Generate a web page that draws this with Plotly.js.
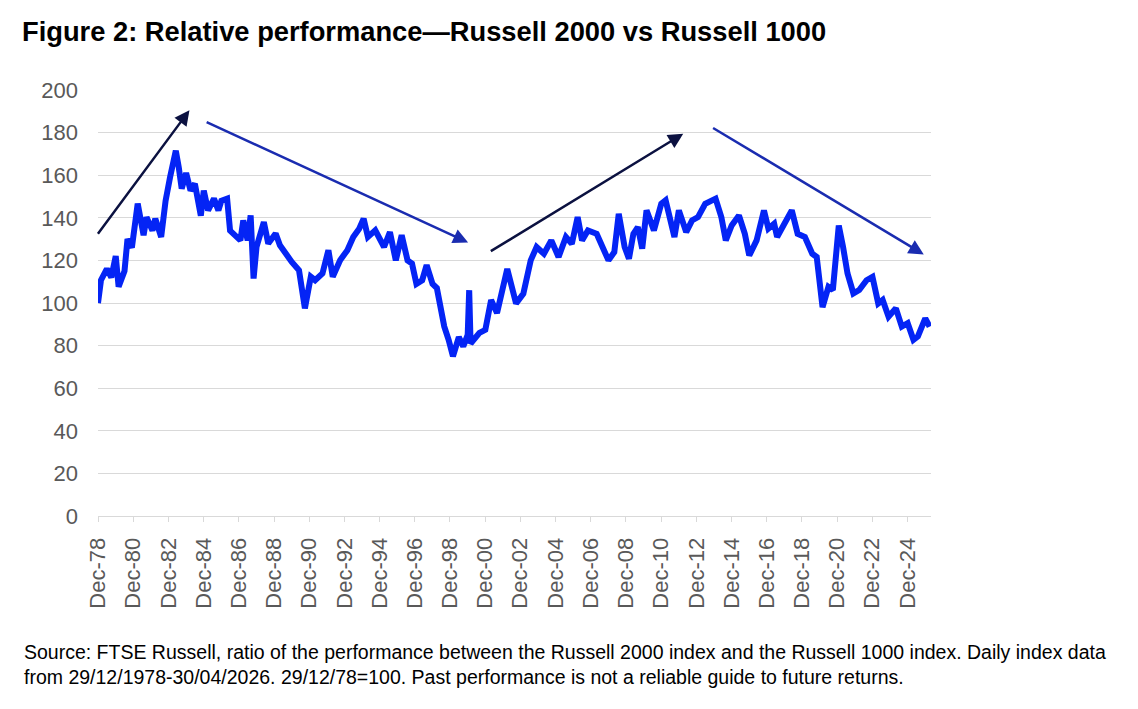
<!DOCTYPE html>
<html>
<head>
<meta charset="utf-8">
<script src="https://cdn.plot.ly/plotly-3.0.1.min.js"></script>
<style>
  html, body { margin: 0; padding: 0; background: #ffffff; }
  #chart { width: 1138px; height: 709px; }
</style>
</head>
<body>
<div id="chart"></div>
<script>
// Month-end dates of readings (relative performance, 29/12/78 = 100)
const dates = [
  '1978-12-29','1979-03','1979-07','1979-10','1980-01','1980-03','1980-07','1980-09','1980-12',
  '1981-04','1981-08','1981-10','1982-02','1982-04','1982-08','1982-11','1983-02','1983-06',
  '1983-08','1983-10','1984-01','1984-04','1984-07','1984-11','1985-01','1985-04','1985-08',
  '1985-11','1986-01','1986-05','1986-07','1986-12','1987-02','1987-04','1987-07','1987-09',
  '1987-11','1988-01','1988-06','1988-09','1989-02','1989-05','1989-10','1990-01','1990-06',
  '1990-10','1991-02','1991-05','1991-10','1992-02','1992-05','1992-10','1993-03','1993-07',
  '1993-11','1994-02','1994-05','1994-10','1995-04','1995-08','1995-12','1996-04','1996-08',
  '1996-11','1997-02','1997-06','1997-09','1998-01','1998-04','1998-09','1998-12','1999-03',
  '1999-07','1999-10','2000-01','2000-02','2000-03','2000-09','2001-01','2001-05','2001-09',
  '2001-12','2002-04','2002-10','2003-03','2003-08','2003-12','2004-05','2004-10','2005-03',
  '2005-08','2005-12','2006-04','2006-07','2006-11','2007-05','2007-10','2008-01','2008-05',
  '2008-08','2008-12','2009-03','2009-06','2009-09','2009-12','2010-03','2010-08','2011-01',
  '2011-04','2011-08','2011-10','2012-01','2012-06','2012-10','2013-02','2013-07','2013-12',
  '2014-02','2014-06','2014-09','2015-01','2015-06','2015-10','2016-01','2016-06','2016-11',
  '2017-02','2017-06','2017-08','2018-01','2018-06','2018-10','2019-03','2019-08','2019-11',
  '2020-03','2020-07','2020-10','2021-02','2021-05','2021-08','2021-12','2022-04','2022-09',
  '2023-01','2023-05','2023-08','2023-12','2024-05','2024-09','2025-01','2025-05','2025-08',
  '2026-01','2026-04'
];
const ratio = [
  100,110.7,116,112,122,107.6,115,130,126,
  146.7,131.8,140.3,134,139.6,131,148,159,171.5,
  163.7,153.7,161,152.8,156,141,152.8,143.5,149,
  143.5,148,149,134,131,129.4,138.8,129.4,141.1,
  111.5,126.3,138,127.9,132.6,127.1,121.6,119.3,115.4,
  97.5,112.3,110.7,113.9,124.8,112.3,120.1,124.8,131,
  134.9,139.6,131,134.1,126.3,133.3,120,131.8,120,
  118.5,109,110.7,117.8,109,107,89,82.7,75,
  84,79.6,85,106,81,86,87.4,101.4,95.3,
  104.7,116,99.8,104.4,120,126.3,123.1,129.4,121.6,
  131,127.8,140.3,129.4,134.1,132.5,124.7,120,123.9,
  141.9,126.3,120.8,132.5,135.6,125.5,143.5,134.1,146.6,
  148.2,137.2,131,143.5,133.3,138.8,140.3,146.6,148.2,
  149,140.3,129.4,136.4,141.1,132.5,122.3,129.4,143.5,
  134.9,137.2,131,137.2,143.5,132.5,131,123.1,121.6,
  98.1,107.6,106.1,136.4,126.3,113.9,104.5,106.1,110.7,
  112.3,99.8,101.4,93.6,97.5,88.9,90.5,82.7,84.3,
  92.8,88.9
];

// Axis ticks
const tickDates = ['1978-12-29','1980-12-29','1982-12-29','1984-12-29','1986-12-29','1988-12-29',
  '1990-12-29','1992-12-29','1994-12-29','1996-12-29','1998-12-29','2000-12-29','2002-12-29',
  '2004-12-29','2006-12-29','2008-12-29','2010-12-29','2012-12-29','2014-12-29','2016-12-29',
  '2018-12-29','2020-12-29','2022-12-29','2024-12-29'];
const tickLabels = ['Dec-78','Dec-80','Dec-82','Dec-84','Dec-86','Dec-88','Dec-90','Dec-92',
  'Dec-94','Dec-96','Dec-98','Dec-00','Dec-02','Dec-04','Dec-06','Dec-08','Dec-10','Dec-12',
  'Dec-14','Dec-16','Dec-18','Dec-20','Dec-22','Dec-24'];
const yTicks = [0,20,40,60,80,100,120,140,160,180,200];

// Trend arrows: [start date, start value, end date, end value, colour]
const trendArrows = [
  ['1978-12-05', 131.8, '1984-03-10', 190.5, '#0b1140'],
  ['1985-01-30', 185.2, '2000-01-10', 128.4, '#1a2cb0'],
  ['2001-03-25', 123.9, '2012-04-01', 179.5, '#0b1140'],
  ['2013-11-10', 182.6, '2025-12-01', 122.8, '#1a2cb0']
];

const FONT = 'Arial, "Liberation Sans", Helvetica, sans-serif';
const W = 1138, H = 709;
const L = 98, R = 207, T = 90, B = 193;
const pw = W - L - R, ph = H - T - B;

const annotations = trendArrows.map(a => ({
  x: a[2], y: a[3], ax: a[0], ay: a[1],
  xref: 'x', yref: 'y', axref: 'x', ayref: 'y',
  text: '', showarrow: true,
  arrowhead: 2, arrowsize: 1.2, arrowwidth: 2.5, arrowcolor: a[4], standoff: 0
}));
annotations.push({
  xref: 'paper', yref: 'paper', x: (22 - L) / pw, y: (T + ph - 652) / ph,
  xanchor: 'left', yanchor: 'middle', align: 'left', showarrow: false,
  text: 'Source: FTSE Russell, ratio of the performance between the Russell 2000 index and the Russell 1000 index. Daily index data',
  font: {family: FONT, size: 19.5, color: '#000000'}
});
annotations.push({
  xref: 'paper', yref: 'paper', x: (22 - L) / pw, y: (T + ph - 677) / ph,
  xanchor: 'left', yanchor: 'middle', align: 'left', showarrow: false,
  text: 'from 29/12/1978-30/04/2026. 29/12/78=100. Past performance is not a reliable guide to future returns.',
  font: {family: FONT, size: 19.5, color: '#000000'}
});

const trace = {
  x: dates, y: ratio, type: 'scatter', mode: 'lines',
  line: {color: '#0424f5', width: 6},
  hoverinfo: 'skip'
};

const layout = {
  width: W, height: H,
  margin: {l: L, r: R, t: T, b: B},
  paper_bgcolor: '#ffffff', plot_bgcolor: '#ffffff',
  showlegend: false,
  title: {
    text: 'Figure 2: Relative performance\u2014Russell 2000 vs Russell 1000',
    font: {family: FONT, size: 27.3, color: '#000000', weight: 'bold'},
    xref: 'container', yref: 'container', x: 22 / W, xanchor: 'left',
    y: 1 - 31 / H, yanchor: 'middle'
  },
  xaxis: {
    type: 'date', range: ['1978-12-29', '2026-04-30'],
    tickmode: 'array', tickvals: tickDates, ticktext: tickLabels,
    tickangle: -90, ticks: 'outside', ticklen: 5, tickcolor: '#d9d9d9', tickwidth: 1,
    showline: true, linecolor: '#d9d9d9', linewidth: 1,
    showgrid: false, zeroline: false,
    tickfont: {family: FONT, size: 22, color: '#595959'},
    ticklabelstandoff: 7
  },
  yaxis: {
    range: [0, 200], tickmode: 'array', tickvals: yTicks,
    showgrid: true, gridcolor: '#d9d9d9', gridwidth: 1,
    zeroline: false, showline: false, ticks: '',
    tickfont: {family: FONT, size: 22, color: '#595959'},
    ticklabelstandoff: 19
  },
  annotations: annotations
};

Plotly.newPlot('chart', [trace], layout, {staticPlot: true, displayModeBar: false});
</script>
</body>
</html>
